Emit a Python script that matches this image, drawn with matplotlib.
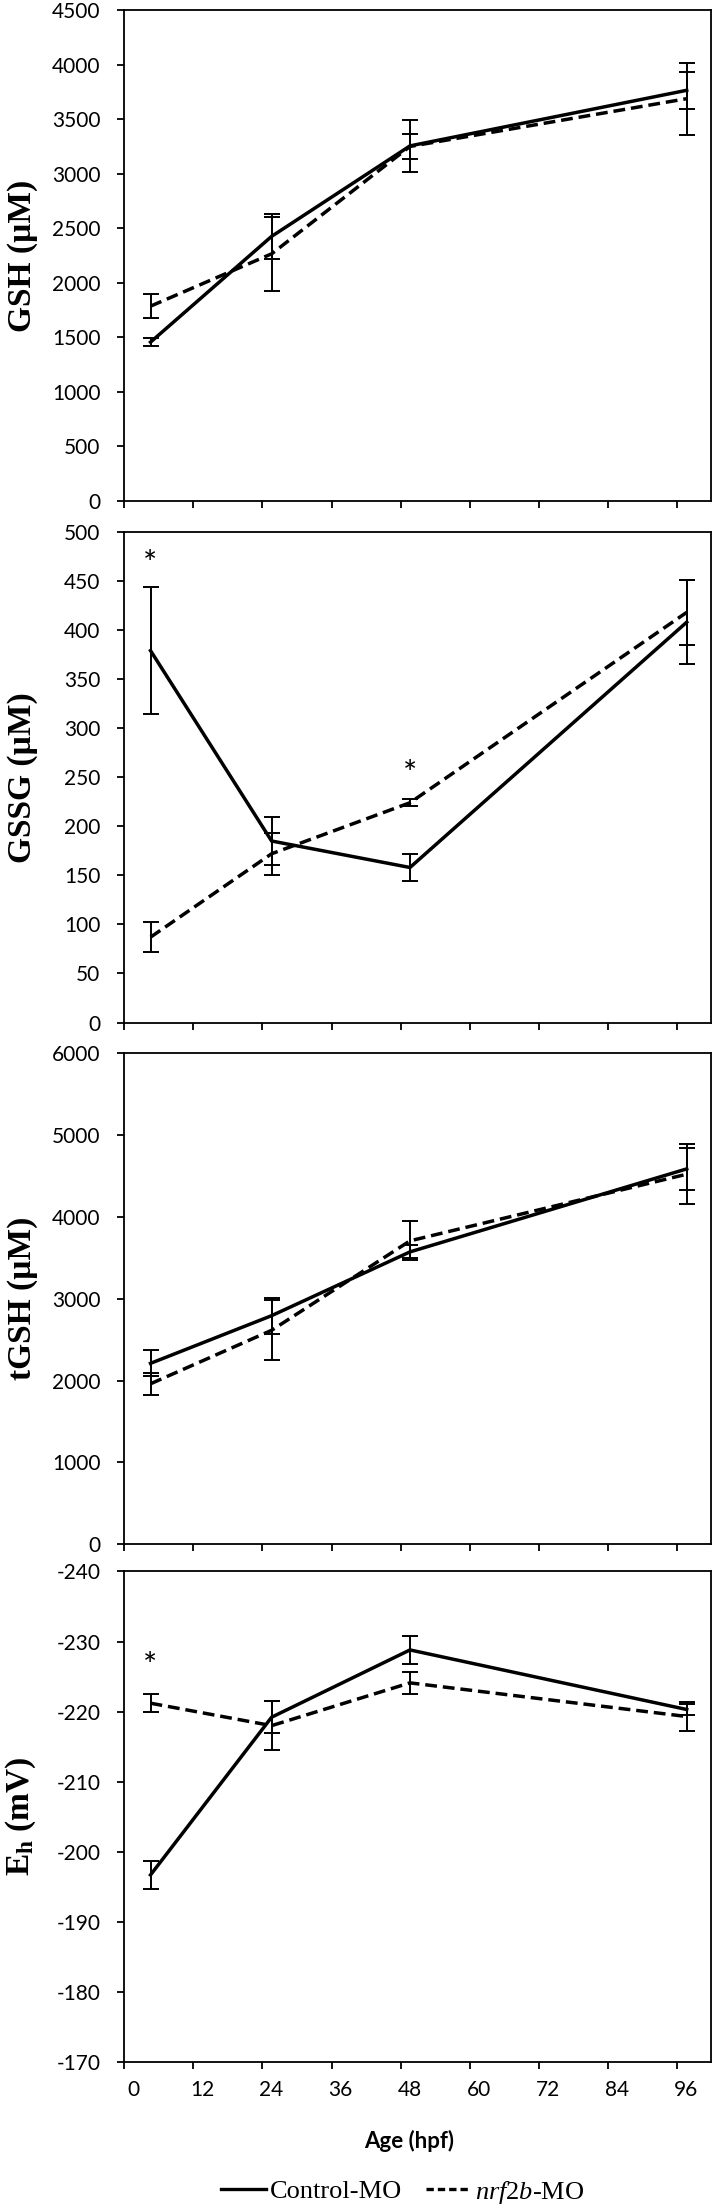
import numpy as np
import matplotlib.pyplot as plt
from matplotlib.lines import Line2D
from matplotlib.transforms import ScaledTranslation

plt.rcParams['font.family'] = ['Lato', 'DejaVu Sans']
plt.rcParams['mathtext.fontset'] = 'custom'
plt.rcParams['mathtext.rm'] = 'Liberation Serif'
plt.rcParams['mathtext.it'] = 'Liberation Serif:italic'
plt.rcParams['mathtext.bf'] = 'Liberation Serif:bold'
plt.rcParams['axes.linewidth'] = 1.3
plt.rcParams['axes.unicode_minus'] = False

# ages (hpf)
age = [3, 24, 48, 96]
age_ticks = [0, 12, 24, 36, 48, 60, 72, 84, 96]
tick_shift = 1.6   # tick marks sit a little left of the labels, as in the source

# GSH (uM)
gsh_ctrl = [1455, 2425, 3255, 3765]
gsh_ctrl_err = [35, 205, 235, 168]
gsh_nrf = [1785, 2265, 3250, 3688]
gsh_nrf_err = [110, 340, 115, 329]

# GSSG (uM)
gssg_ctrl = [379, 185, 158, 408]
gssg_ctrl_err = [65, 24.5, 14, 43]
gssg_nrf = [87, 172, 224, 418]
gssg_nrf_err = [15.6, 21.4, 3.5, 33]
gssg_stars = [(3, 466), (48, 252)]

# total GSH (uM)
tgsh_ctrl = [2210, 2793, 3573, 4588]
tgsh_ctrl_err = [160, 222, 80, 253]
tgsh_nrf = [1960, 2614, 3708, 4523]
tgsh_nrf_err = [134, 366, 240, 370]

# Eh (mV)
eh_ctrl = [-196.7, -219.2, -228.8, -220.3]
eh_ctrl_err = [2.0, 2.3, 2.0, 0.8]
eh_nrf = [-221.2, -218.0, -224.1, -219.3]
eh_nrf_err = [1.3, 3.5, 1.6, 2.1]
eh_stars = [(3, -226.3)]

panels = [
    ('GSH (µM)', gsh_ctrl, gsh_ctrl_err, gsh_nrf, gsh_nrf_err, (0, 4500), np.arange(0, 4501, 500), []),
    ('GSSG (µM)', gssg_ctrl, gssg_ctrl_err, gssg_nrf, gssg_nrf_err, (0, 500), np.arange(0, 501, 50), gssg_stars),
    ('tGSH (µM)', tgsh_ctrl, tgsh_ctrl_err, tgsh_nrf, tgsh_nrf_err, (0, 6000), np.arange(0, 6001, 1000), []),
    (r'$\mathbf{E}_\mathbf{h}$ (mV)', eh_ctrl, eh_ctrl_err, eh_nrf, eh_nrf_err, (-170, -240), np.arange(-240, -169, 10), eh_stars),
]

bottoms = [0.7732, 0.5369, 0.3007, 0.0661]
fig = plt.figure(figsize=(7.14, 22.08), dpi=100)

for i, (ylab, c, ce, n, ne, ylim, yt, stars) in enumerate(panels):
    ax = fig.add_axes([0.1737, bottoms[i], 0.822, 0.2222])
    ax.errorbar(age, c, yerr=ce, fmt='none', ecolor='black', elinewidth=1.4, capsize=6, capthick=1.4)
    ax.errorbar(age, n, yerr=ne, fmt='none', ecolor='black', elinewidth=1.4, capsize=6, capthick=1.4)
    ax.plot(age, c, '-', color='black', lw=2.5)
    ax.plot(age, n, '--', color='black', lw=2.5, dashes=(3.4, 1.7))
    for sx, sy in stars:
        ax.text(sx, sy, '*', ha='center', va='center', fontsize=24)
    ax.set_ylim(*ylim)
    ax.set_yticks(yt)
    ax.set_xlim(-tick_shift, 100.2)
    ax.set_xticks([t - tick_shift for t in age_ticks])
    ax.tick_params(axis='y', direction='out', length=5, width=1.3, pad=12, labelsize=15)
    ax.tick_params(axis='x', direction='out', length=5, width=1.3, pad=8, labelsize=15)
    ax.set_ylabel(ylab, fontfamily='Liberation Serif', fontweight='bold', fontsize=24)
    ax.yaxis.set_label_coords(-0.147, 0.5)
    if i == len(panels) - 1:
        ax.set_xticklabels([str(t) for t in age_ticks])
        off = ScaledTranslation(0.09, 0, fig.dpi_scale_trans)
        for lbl in ax.get_xticklabels():
            lbl.set_transform(lbl.get_transform() + off)
        ax.set_xlabel('Age (hpf)', fontweight='bold', fontsize=16)
        ax.xaxis.set_label_coords(0.4855, -0.139)
    else:
        ax.set_xticklabels([])

handles = [Line2D([], [], color='black', lw=2.4),
           Line2D([], [], color='black', lw=2.4, ls='--', dashes=(2.2, 1.2))]
fig.legend(handles, ['Control-MO', r'$\mathit{nrf2b}$-MO'], loc='center', ncol=2,
           bbox_to_anchor=(403 / 714, 1 - 2192 / 2208), frameon=False,
           prop={'family': 'Liberation Serif', 'size': 19},
           handlelength=1.7, handletextpad=0.15, columnspacing=0.9)

fig.savefig('out.png', dpi=100)
